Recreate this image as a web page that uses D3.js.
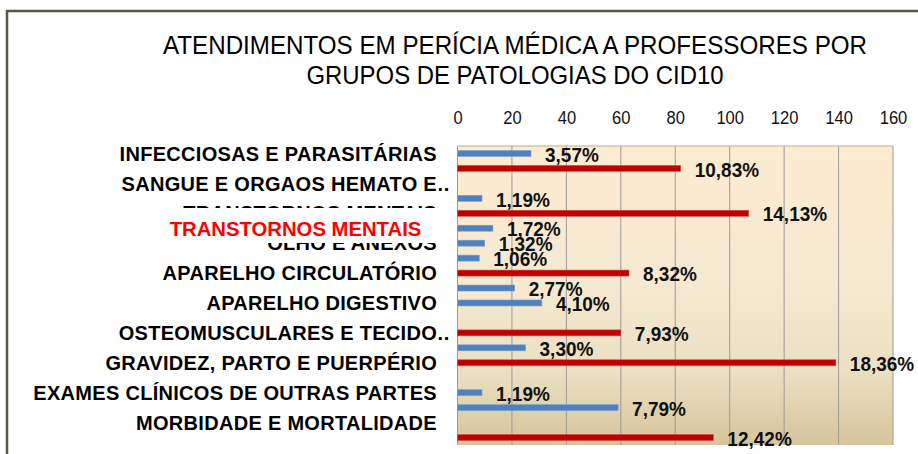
<!DOCTYPE html>
<html>
<head>
<meta charset="utf-8">
<script src="https://cdn.jsdelivr.net/npm/d3@7"></script>
<style>
  html, body { margin: 0; padding: 0; background: #fff; }
  svg { display: block; font-family: "Liberation Sans", Arial, sans-serif; }
</style>
</head>
<body>
<svg id="chart" width="918" height="454"></svg>
<script>
// ---- data ----
const titleLines = ["ATENDIMENTOS EM PERÍCIA MÉDICA A PROFESSORES POR", "GRUPOS DE PATOLOGIAS DO CID10"];
const categories = [
  "INFECCIOSAS E PARASITÁRIAS",
  "SANGUE E ORGAOS HEMATO E..",
  "TRANSTORNOS MENTAIS",
  "OLHO E ANEXOS",
  "APARELHO CIRCULATÓRIO",
  "APARELHO DIGESTIVO",
  "OSTEOMUSCULARES E TECIDO..",
  "GRAVIDEZ, PARTO E PUERPÉRIO",
  "EXAMES CLÍNICOS DE OUTRAS PARTES",
  "MORBIDADE E MORTALIDADE"
];
const highlightLabel = "TRANSTORNOS MENTAIS";
const xTicks = [0, 20, 40, 60, 80, 100, 120, 140, 160];
const slotCount = 20;
const blueSlots  = [0, 3, 5, 6, 7, 9, 10, 13, 16, 17];
const blueValues = [27, 9, 13, 10, 8, 21, 31, 25, 9, 59];
const blueLabels = ["3,57%", "1,19%", "1,72%", "1,32%", "1,06%", "2,77%", "4,10%", "3,30%", "1,19%", "7,79%"];
const redSlots  = [1, 4, 8, 12, 14, 19];
const redValues = [82, 107, 63, 60, 139, 94];
const redLabels = ["10,83%", "14,13%", "8,32%", "7,93%", "18,36%", "12,42%"];

// ---- layout ----
const svg = d3.select("#chart");
const plot = { left: 457.5, right: 893, top: 146, bottom: 445 };

const x = d3.scaleLinear().domain([0, 160]).range([plot.left, plot.right]);
const y = d3.scaleBand().domain(d3.range(slotCount))
  .range([plot.top, plot.bottom]).paddingInner(0.6).paddingOuter(0.3);
const bw = y.bandwidth();
const yc = s => y(s) + bw / 2;

// outer frame
svg.append("rect").attr("x", 7).attr("y", 11).attr("width", 960).attr("height", 500)
  .attr("fill", "none").attr("stroke", "#58554a").attr("stroke-width", 2.5);

// title
const titleWidths = [704, 417];
svg.append("g").selectAll("text").data(titleLines).join("text")
  .attr("x", 515).attr("y", (d, i) => 54 + i * 30)
  .attr("text-anchor", "middle").attr("font-size", 25.5).attr("fill", "#000")
  .attr("textLength", (d, i) => titleWidths[i]).attr("lengthAdjust", "spacingAndGlyphs")
  .text(d => d);

// plot background gradient
const defs = svg.append("defs");
const grad = defs.append("linearGradient").attr("id", "bg").attr("x1", 0).attr("x2", 0).attr("y1", 0).attr("y2", 1);
[[0, "#fdebcf"], [0.45, "#f5e9d2"], [0.75, "#ebe0c2"], [1, "#d6c59c"]].forEach(([o, c]) =>
  grad.append("stop").attr("offset", o).attr("stop-color", c));
svg.append("rect").attr("x", plot.left).attr("y", plot.top)
  .attr("width", plot.right - plot.left).attr("height", plot.bottom - plot.top)
  .attr("fill", "url(#bg)");

// gridlines
svg.append("g").selectAll("line").data(xTicks).join("line")
  .attr("x1", d => x(d)).attr("x2", d => x(d))
  .attr("y1", plot.top).attr("y2", plot.bottom)
  .attr("stroke", "#9c9a94").attr("stroke-width", 1);
svg.append("line").attr("x1", plot.left).attr("x2", plot.right).attr("y1", plot.top).attr("y2", plot.top)
  .attr("stroke", "#b7ad98").attr("stroke-width", 1);

// top axis
const axis = svg.append("g").attr("transform", `translate(0,${plot.top})`)
  .call(d3.axisTop(x).tickValues(xTicks).tickSize(0).tickPadding(22).tickFormat(d3.format("d")));
axis.select(".domain").remove();
axis.selectAll(".tick text")
  .attr("font-size", 18).attr("font-family", "Liberation Sans, Arial, sans-serif").attr("fill", "#111")
  .attr("transform", "scale(0.92,1)");

// category labels
const catG = svg.append("g");
categories.forEach((c, i) => {
  const trunc = c.endsWith("..");
  const base = trunc ? c.slice(0, -2) : c;
  const yy = yc(2 * i) + 0.36 * 20;
  catG.append("text").attr("x", 437).attr("y", yy).attr("text-anchor", "end")
    .attr("font-size", 20).attr("font-weight", "bold").attr("letter-spacing", "0.3px")
    .attr("fill", "#000").text(base);
  if (trunc) {
    catG.append("text").attr("x", 437.5).attr("y", yy).attr("text-anchor", "start")
      .attr("font-size", 20).attr("font-weight", "bold").attr("letter-spacing", "0.8px")
      .attr("fill", "#000").text("..");
  }
});

// highlight overlay (white box with red text)
svg.append("rect").attr("x", 150).attr("y", 208).attr("width", 292).attr("height", 35).attr("fill", "#fff");
svg.append("text").attr("x", 295.5).attr("y", yc(5) + 7.6).attr("text-anchor", "middle")
  .attr("font-size", 20.3).attr("font-weight", "bold").attr("fill", "#ff0000").text(highlightLabel);

// bars
const blue = blueSlots.map((s, i) => ({ s, v: blueValues[i], l: blueLabels[i] }));
const red = redSlots.map((s, i) => ({ s, v: redValues[i], l: redLabels[i] }));
function drawSeries(data, fill, stroke) {
  const g = svg.append("g");
  g.selectAll("rect").data(data).join("rect")
    .attr("x", x(0)).attr("y", d => y(d.s))
    .attr("width", d => x(d.v) - x(0)).attr("height", bw)
    .attr("fill", fill).attr("stroke", stroke).attr("stroke-width", 0.6);
  return g;
}
drawSeries(blue, "#4f81bd", "#7a9fd0");
drawSeries(red, "#c00000", "#d84a4a");

// value labels
const labG = svg.append("g");
labG.selectAll("text").data(blue.concat(red)).join("text")
  .attr("transform", d => `translate(${x(d.v) + 14},${yc(d.s) + 1 + 0.36 * 20}) scale(0.95,1)`)
  .attr("font-size", 20).attr("font-weight", "bold").attr("fill", "#111")
  .text(d => d.l);
</script>
</body>
</html>
